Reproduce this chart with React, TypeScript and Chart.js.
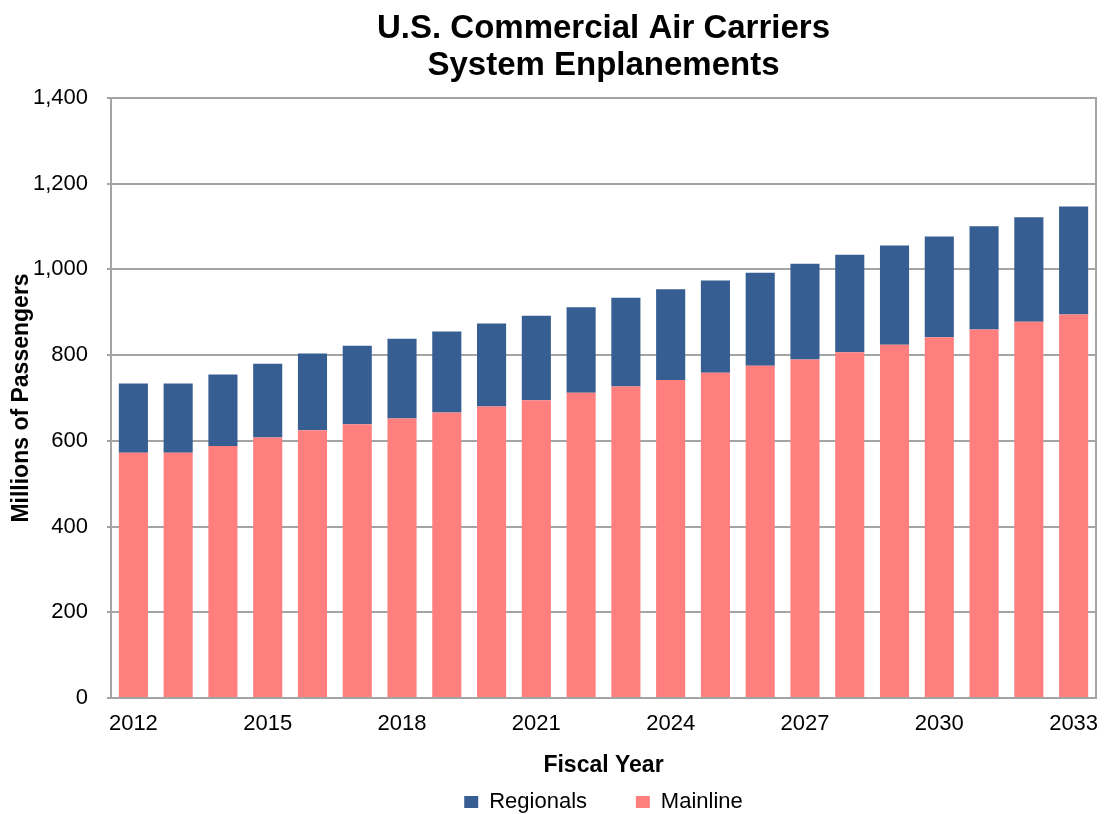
import React, { useEffect, useRef } from "react";
import { Chart, registerables } from "chart.js";

Chart.register(...registerables);

const years = [
  "2012", "2013", "2014", "2015", "2016", "2017", "2018", "2019", "2020", "2021", "2022",
  "2023", "2024", "2025", "2026", "2027", "2028", "2029", "2030", "2031", "2032", "2033",
];
const mainline = [572, 572, 588, 608, 625, 639, 652, 666, 680, 695, 712, 727, 742, 759, 775, 790, 807, 824, 842, 860, 878, 895];
const regionals = [162, 162, 167, 172, 179, 183, 186, 189, 194, 197, 200, 207, 212, 215, 217, 223, 227, 232, 235, 241, 244, 252];
const xTickLabels = ["2012", "2015", "2018", "2021", "2024", "2027", "2030", "2033"];
const titleLines = ["U.S. Commercial Air Carriers", "System Enplanements"];

const FONT = "'Liberation Sans', Arial, Helvetica, sans-serif";
const BLUE = "#375E92";
const PINK = "#FF7F7F";
const GRID = "#A4A4A4";

const framePlugin = {
  id: "frame",
  beforeDatasetsDraw(chart: any) {
    const { ctx, chartArea } = chart;
    ctx.save();
    ctx.strokeStyle = GRID;
    ctx.lineWidth = 2;
    ctx.strokeRect(chartArea.left, chartArea.top, chartArea.right - chartArea.left, chartArea.bottom - chartArea.top);
    ctx.restore();
  },
};

export default function App() {
  const ref = useRef<HTMLCanvasElement | null>(null);

  useEffect(() => {
    if (!ref.current) return;
    const chart = new Chart(ref.current, {
      type: "bar",
      data: {
        labels: years,
        datasets: [
          { label: "Mainline", data: mainline, backgroundColor: PINK, borderWidth: 0, barPercentage: 0.65, categoryPercentage: 1.0 },
          { label: "Regionals", data: regionals, backgroundColor: BLUE, borderWidth: 0, barPercentage: 0.65, categoryPercentage: 1.0 },
        ],
      },
      options: {
        responsive: false,
        animation: false,
        layout: { padding: { left: 4, right: 8, top: 0, bottom: -9 } },
        plugins: {
          title: {
            display: true,
            fullSize: false,
            text: titleLines,
            color: "#000",
            font: { family: FONT, size: 33, weight: "bold", lineHeight: "37px" },
            padding: { top: 10, bottom: 14 },
          },
          legend: {
            position: "bottom",
            fullSize: false,
            reverse: true,
            labels: {
              color: "#000",
              font: { family: FONT, size: 22 },
              boxWidth: 14,
              boxHeight: 12,
              padding: 6,
              generateLabels: (c: any) => {
                const items = (Chart as any).defaults.plugins.legend.labels.generateLabels(c);
                return items.map((it: any) =>
                  it.text === "Regionals" ? { ...it, text: "Regionals       " } : it
                );
              },
            },
          },
          tooltip: { enabled: false },
        },
        scales: {
          x: {
            stacked: true,
            grid: { display: false, drawTicks: true, tickLength: 13 },
            border: { display: true, color: GRID, width: 2 },
            ticks: {
              autoSkip: false,
              maxRotation: 0,
              minRotation: 0,
              padding: 0,
              color: "#000",
              font: { family: FONT, size: 22 },
              callback: function (this: any, value: any, index: number) {
                const lab = years[index];
                return xTickLabels.includes(lab) ? lab : "";
              },
            },
            title: {
              display: true,
              text: "Fiscal Year",
              color: "#000",
              font: { family: FONT, size: 23, weight: "bold" },
              padding: { top: 0, bottom: 6 },
            },
            afterFit: (s: any) => {
              s.height = 87;
            },
          },
          y: {
            stacked: true,
            min: 0,
            max: 1400,
            grid: { color: GRID, lineWidth: 2, drawTicks: true, tickLength: 4 },
            border: { display: true, color: GRID, width: 2 },
            ticks: {
              stepSize: 200,
              padding: 19,
              color: "#000",
              font: { family: FONT, size: 22 },
              callback: (v: any) => Number(v).toLocaleString("en-US"),
            },
            title: {
              display: true,
              text: "Millions of Passengers",
              color: "#000",
              font: { family: FONT, size: 23, weight: "bold" },
              padding: { top: 4, bottom: 0 },
            },
            afterFit: (s: any) => {
              s.width = 107;
            },
          },
        },
      } as any,
      plugins: [framePlugin],
    });
    return () => chart.destroy();
  }, []);

  return (
    <div style={{ position: "absolute", left: 0, top: 0, width: 1104, height: 814, background: "#fff" }}>
      <canvas ref={ref} width={1104} height={814} />
    </div>
  );
}
